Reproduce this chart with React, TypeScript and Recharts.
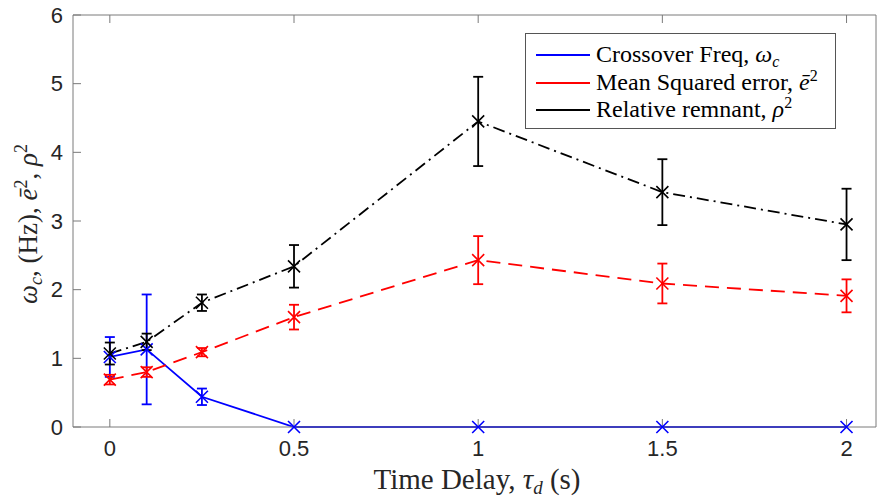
import React from "react";
import { ComposedChart, Line, XAxis, YAxis, ErrorBar } from "recharts";

// time delay conditions (s)
const delays = [0, 0.1, 0.25, 0.5, 1, 1.5, 2];

// crossover frequency
const crossover = [1.02, 1.13, 0.44, 0, 0, 0, 0];
const crossoverErr = [0.29, 0.8, 0.12, 0, 0, 0, 0];

// mean squared error
const mse = [0.69, 0.8, 1.09, 1.6, 2.43, 2.09, 1.91];
const mseErr = [0.07, 0.07, 0.06, 0.18, 0.35, 0.29, 0.24];

// relative remnant
const remnant = [1.07, 1.24, 1.81, 2.34, 4.45, 3.42, 2.95];
const remnantErr = [0.16, 0.12, 0.12, 0.31, 0.65, 0.48, 0.52];

const xTicks = [0, 0.5, 1, 1.5, 2];
const yTicks = [0, 1, 2, 3, 4, 5, 6];

const BLUE = "#0000ff";
const RED = "#ff0000";
const BLACK = "#000000";
const AXIS = "#7a7a7a";
const SERIF = "'Liberation Serif', 'Times New Roman', serif";
const SANS = "'Liberation Sans', Arial, sans-serif";

const data = delays.map((d, i) => ({
  delay: d,
  wc: crossover[i],
  wcErr: crossoverErr[i],
  e2: mse[i],
  e2Err: mseErr[i],
  rho: remnant[i],
  rhoErr: remnantErr[i],
}));

function cross(color: string) {
  return (p: any) => {
    const { cx, cy, index } = p
    if (cx == null || cy == null) return <g key={`n${index}`} />
    const s = 6
    return (
      <path
        key={`x${index}`}
        d={`M${cx - s},${cy - s}L${cx + s},${cy + s}M${cx - s},${cy + s}L${cx + s},${cy - s}`}
        stroke={color}
        strokeWidth={1.6}
        fill="none"
      />
    )
  }
}

const noTick = () => <g />

const tickStyle = { fill: "#262626", fontSize: 22, fontFamily: SANS }

const legendRows = [
  { color: BLUE, y: 55 },
  { color: RED, y: 83 },
  { color: BLACK, y: 110 },
]

export default function App() {
  return (
    <div style={{ position: "absolute", left: 0, top: 0, width: 878, height: 498, background: "#fff" }}>
      <ComposedChart
        width={878}
        height={498}
        data={data}
        margin={{ top: 14, right: 1, bottom: 0, left: 0 }}
      >
        <XAxis
          dataKey="delay"
          type="number"
          domain={[-0.1, 2.08]}
          ticks={xTicks}
          interval={0}
          height={71}
          tickSize={-8}
          tickMargin={21}
          stroke={AXIS}
          tick={tickStyle}
        />
        <XAxis
          xAxisId="top"
          orientation="top"
          dataKey="delay"
          type="number"
          domain={[-0.1, 2.08]}
          ticks={xTicks}
          interval={0}
          height={1}
          tickSize={-8}
          stroke={AXIS}
          tick={noTick}
        />
        <YAxis
          type="number"
          domain={[0, 6]}
          ticks={yTicks}
          interval={0}
          width={73}
          tickSize={-8}
          tickMargin={18}
          stroke={AXIS}
          tick={tickStyle}
        />
        <YAxis
          yAxisId="right"
          orientation="right"
          type="number"
          domain={[0, 6]}
          ticks={yTicks}
          interval={0}
          width={1}
          tickSize={-8}
          stroke={AXIS}
          tick={noTick}
        />
        <Line
          dataKey="wc"
          stroke={BLUE}
          strokeWidth={1.8}
          dot={cross(BLUE)}
          activeDot={false}
          isAnimationActive={false}
        >
          <ErrorBar dataKey="wcErr" width={5} stroke={BLUE} strokeWidth={1.8} isAnimationActive={false} />
        </Line>
        <Line
          dataKey="e2"
          stroke={RED}
          strokeWidth={1.8}
          strokeDasharray="14 8"
          dot={cross(RED)}
          activeDot={false}
          isAnimationActive={false}
        >
          <ErrorBar dataKey="e2Err" width={5} stroke={RED} strokeWidth={1.8} isAnimationActive={false} />
        </Line>
        <Line
          dataKey="rho"
          stroke={BLACK}
          strokeWidth={1.8}
          strokeDasharray="12 5 2 5"
          dot={cross(BLACK)}
          activeDot={false}
          isAnimationActive={false}
        >
          <ErrorBar dataKey="rhoErr" width={5} stroke={BLACK} strokeWidth={1.8} isAnimationActive={false} />
        </Line>
      </ComposedChart>

      <svg
        width={878}
        height={498}
        style={{ position: "absolute", left: 0, top: 0, pointerEvents: "none" }}
      >
        {/* x axis title */}
        <text x={477} y={489} textAnchor="middle" fontFamily={SERIF} fontSize={29} fill="#262626">
          Time Delay, <tspan fontStyle="italic">τ</tspan>
          <tspan fontStyle="italic" fontSize={19} dy={5}>d</tspan>
          <tspan dy={-5}> (s)</tspan>
        </text>

        {/* y axis title */}
        <g transform="translate(37,224) rotate(-90)">
          <text x={0} y={0} textAnchor="middle" fontFamily={SERIF} fontSize={27} fill="#262626">
            <tspan fontStyle="italic">ω</tspan>
            <tspan fontStyle="italic" fontSize={18} dy={5}>c</tspan>
            <tspan dy={-5}>, (Hz), </tspan>
            <tspan fontStyle="italic">ē</tspan>
            <tspan fontSize={18} dy={-10}>2</tspan>
            <tspan dy={10}>, </tspan>
            <tspan fontStyle="italic">ρ</tspan>
            <tspan fontSize={18} dy={-10}>2</tspan>
          </text>
        </g>

        {/* legend */}
        <rect x={525.5} y={33.5} width={310} height={95} fill="#fff" stroke="#555" strokeWidth={1} />
        {legendRows.map((r) => (
          <line key={r.color} x1={536} x2={590} y1={r.y} y2={r.y} stroke={r.color} strokeWidth={1.8} />
        ))}
        <text x={596} y={62} fontFamily={SERIF} fontSize={24} fill="#000">
          Crossover Freq, <tspan fontStyle="italic">ω</tspan>
          <tspan fontStyle="italic" fontSize={16} dy={5}>c</tspan>
        </text>
        <text x={596} y={90} fontFamily={SERIF} fontSize={24} fill="#000">
          Mean Squared error, <tspan fontStyle="italic">ē</tspan>
          <tspan fontSize={16} dy={-9}>2</tspan>
        </text>
        <text x={596} y={117} fontFamily={SERIF} fontSize={24} fill="#000">
          Relative remnant, <tspan fontStyle="italic">ρ</tspan>
          <tspan fontSize={16} dy={-9}>2</tspan>
        </text>
      </svg>
    </div>
  );
}
